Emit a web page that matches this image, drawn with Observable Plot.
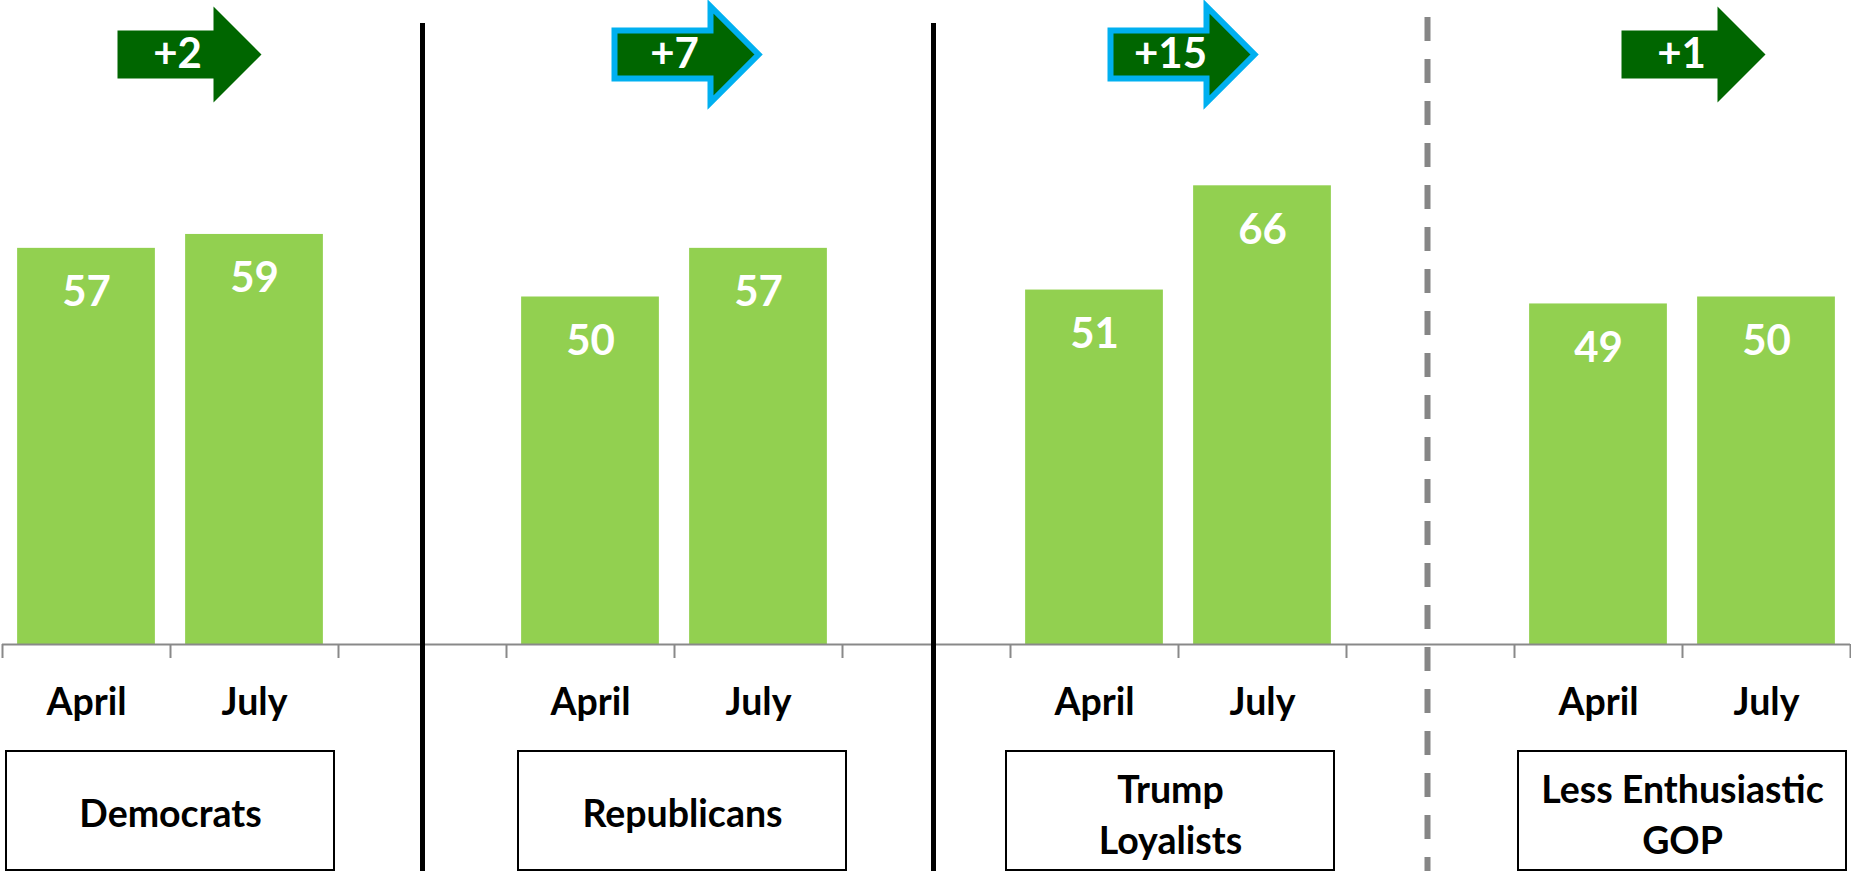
<!DOCTYPE html>
<html>
<head>
<meta charset="utf-8">
<script src="https://cdn.jsdelivr.net/npm/d3@7"></script>
<script src="https://cdn.jsdelivr.net/npm/@observablehq/plot@0.6"></script>
<style>
  html, body { margin: 0; padding: 0; background: #fff; overflow: hidden; }
  #chart svg { display: block; }
</style>
</head>
<body>
<div id="chart"></div>
<script>
// ---------- data ----------
const groups = ["Democrats", "Republicans", "Trump Loyalists", "Less Enthusiastic GOP"];
const groupLabelLines = [["Democrats"], ["Republicans"], ["Trump", "Loyalists"], ["Less Enthusiastic", "GOP"]];
const months = ["April", "July"];
const aprilValues = [57, 50, 51, 49];
const julyValues = [59, 57, 66, 50];
const changeLabels = ["+2", "+7", "+15", "+1"];
const highlightedChange = [false, true, true, false];

// ---------- layout ----------
const W = 1851, H = 871;
const PX_PER_SLOT = 168;         // horizontal pixels per category slot
const PX_PER_UNIT = 6.95;        // vertical pixels per value unit
const BASE_PX = 644;             // pixel row of value 0
const yAt = px => (BASE_PX - px) / PX_PER_UNIT;   // pixel row -> value units
const dX = px => px / PX_PER_SLOT;
const dY = px => px / PX_PER_UNIT;
const FONT = "Lato, 'Open Sans', sans-serif";
const GREEN = "#92D050", DARK = "#006600", BLUE = "#00B0F0", AXIS = "#898989";
const LABEL_SIZE = 37.5;

const slotsPerGroup = 3;
const nSlots = groups.length * slotsPerGroup - 1;   // 11

const bars = [];
groups.forEach((g, gi) => {
  [aprilValues[gi], julyValues[gi]].forEach((v, mi) => {
    bars.push({group: g, month: months[mi], value: v, slot: gi * slotsPerGroup + mi});
  });
});

const groupCenter = gi => gi * slotsPerGroup + 1;
const boxNudge = [0, 8, -8, 0];           // px
const arrowNudge = [-53, -60, -68, -61];  // px, arrow start relative to group centre

const boxes = groups.map((g, gi) => ({group: g, c: groupCenter(gi) + dX(boxNudge[gi])}));
const boxText = [];
groupLabelLines.forEach((lines, gi) => {
  const n = lines.length;
  lines.forEach((t, k) => {
    boxText.push({text: t, x: boxes[gi].c, y: yAt(826 + (k - (n - 1) / 2) * 51 + (n > 1 ? 2 : 0))});
  });
});

// arrow polygons (pixel shape converted into scale units)
const arrowShape = [[0, -24], [96, -24], [96, -48], [144, 0], [96, 48], [96, 24], [0, 24]];
const arrowMidY = yAt(54);
const arrowPts = [];
const arrowText = [];
groups.forEach((g, gi) => {
  const x0 = groupCenter(gi) + dX(arrowNudge[gi]);
  arrowShape.forEach(([px, py]) => {
    arrowPts.push({group: g, hi: highlightedChange[gi], x: x0 + dX(px), y: arrowMidY - dY(py)});
  });
  arrowText.push({text: changeLabels[gi], x: x0 + dX(72 - 12), y: arrowMidY});
});

const gapCenters = d3.range(groups.length - 1).map(gi => gi * slotsPerGroup + 2.5);
const dividerNudge = [0, 7, -3];
const dividers = gapCenters.map((x, i) => ({x: x + dX(dividerNudge[i]), dashed: i === gapCenters.length - 1}));

const yMin = yAt(H), yMax = yAt(0);

const chart = Plot.plot({
  width: W,
  height: H,
  margin: 0,
  marginLeft: 2,
  marginRight: 1,
  style: {fontFamily: FONT, background: "#fff"},
  x: {type: "linear", domain: [0, nSlots], axis: null},
  y: {type: "linear", domain: [yMin, yMax], axis: null},
  marks: [
    // bars
    Plot.rect(bars, {x1: d => d.slot + 0.09, x2: d => d.slot + 0.91, y1: 0, y2: "value", fill: GREEN}),
    // value labels
    Plot.text(bars, {x: d => d.slot + 0.5, y: "value", text: d => String(d.value), fill: "white",
      fontSize: 42, fontWeight: "bold", fontFamily: FONT, lineAnchor: "top", dy: 28}),
    // category axis line and boundary ticks
    Plot.ruleY([0], {x1: 0, x2: nSlots, stroke: AXIS, strokeWidth: 2}),
    Plot.ruleX(d3.range(nSlots + 1), {y1: 0, y2: -dY(14), stroke: AXIS, strokeWidth: 2}),
    // month labels
    Plot.text(bars, {x: d => d.slot + 0.5, y: yAt(714), text: "month", fill: "black",
      fontSize: LABEL_SIZE, fontWeight: "bold", fontFamily: FONT, lineAnchor: "bottom"}),
    // group boxes
    Plot.rect(boxes, {x1: d => d.c - dX(164), x2: d => d.c + dX(164), y1: yAt(870), y2: yAt(751),
      fill: "none", stroke: "black", strokeWidth: 2}),
    Plot.text(boxText, {x: "x", y: "y", text: "text", fill: "black",
      fontSize: LABEL_SIZE, fontWeight: "bold", fontFamily: FONT, lineAnchor: "bottom"}),
    // dividers
    Plot.ruleX(dividers.filter(d => !d.dashed), {x: "x", y1: yAt(23), y2: yMin, stroke: "black", strokeWidth: 5}),
    Plot.ruleX(dividers.filter(d => d.dashed), {x: "x", y1: yAt(17), y2: yMin, stroke: "#868686", strokeWidth: 6, strokeDasharray: "24,18"}),
    // change arrows
    Plot.line(arrowPts.filter(d => !d.hi), {x: "x", y: "y", z: "group", curve: "linear-closed", fill: DARK, stroke: "none"}),
    Plot.line(arrowPts.filter(d => d.hi), {x: "x", y: "y", z: "group", curve: "linear-closed", fill: DARK, stroke: BLUE, strokeWidth: 6, strokeLinejoin: "miter", strokeMiterlimit: 10}),
    Plot.text(arrowText, {x: "x", y: "y", text: "text", fill: "white",
      fontSize: 42, fontWeight: "bold", fontFamily: FONT, lineAnchor: "middle"})
  ]
});
document.getElementById("chart").appendChild(chart);
</script>
</body>
</html>
